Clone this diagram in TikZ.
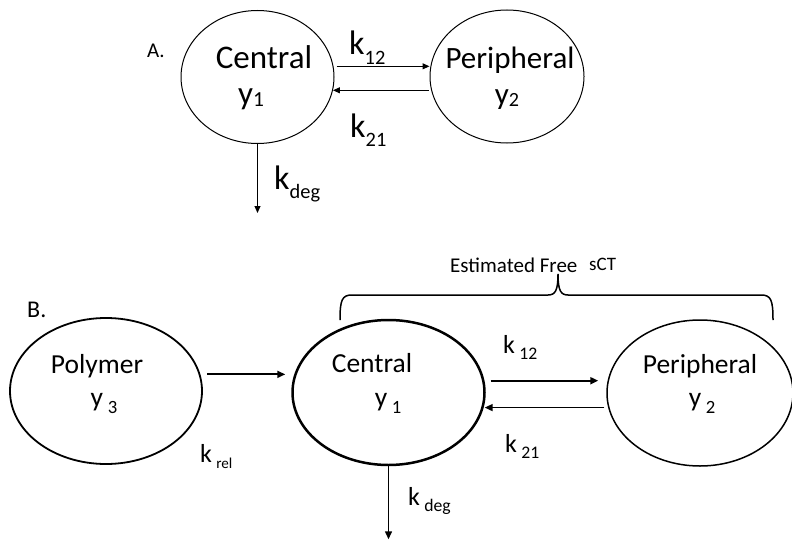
\documentclass[tikz,border=0pt]{standalone}
\usepackage{fontspec}
\setmainfont{Carlito}
\usetikzlibrary{shapes.geometric,arrows.meta,calc}
\newcommand{\lowsub}[3][0.28em]{\raisebox{-#1}{\scalebox{#2}{#3}}}
\tikzset{
  ell/.style={draw, ellipse, inner sep=0pt},
  txtA/.style={font=\fontsize{33}{38}\selectfont, inner sep=0pt},
  txtP/.style={font=\fontsize{31}{36}\selectfont, inner sep=0pt},
  kA/.style={font=\fontsize{34}{38}\selectfont, inner sep=0pt},
  txtB/.style={font=\fontsize{27.5}{32}\selectfont, inner sep=0pt},
  kB/.style={font=\fontsize{26}{32}\selectfont, inner sep=0pt},
  tipA/.style={-{Triangle[length=7pt,width=6pt]}},
  tipB/.style={-{Triangle[length=8pt,width=7pt]}},
}
\begin{document}
\begin{tikzpicture}[x=1pt,y=-1pt]
\useasboundingbox (0,0) rectangle (792,543);
\fill[white] (0,0) rectangle (792,543);
% ---------- A ----------
\node[ell, line width=1pt, minimum width=153pt, minimum height=133pt] (cA) at (257.5,77) {};
\node[ell, line width=1pt, minimum width=154pt, minimum height=133pt] (pA) at (507,76.5) {};
\node[txtA, anchor=base] (tcA1) at (264,68) {Central};
\node[txtA, anchor=base] (tcA2) at (251,104) {y\lowsub[0.08em]{0.65}{1}};
\node[txtP, anchor=base] (tpA1) at (510,68) {Peripheral};
\node[txtP, anchor=base] (tpA2) at (507,104) {y\lowsub[0.08em]{0.65}{2}};
\node[font=\fontsize{21}{24}\selectfont, inner sep=0pt, anchor=base west] (labA) at (147,58) {A.};
\draw[tipA, line width=1pt, shorten <=3pt] (cA.8) -- (pA.west |- cA.8);
\draw[tipA, line width=1pt, shorten <=1pt] (pA.west |- cA.-10) -- (cA.-10);
\node[kA, anchor=base west] (k12A) at (349,55) {k\lowsub{0.6}{12}};
\node[kA, anchor=base west] (k21A) at (350,137) {k\lowsub{0.6}{21}};
\coordinate (dA) at ($(cA.south)+(0,69)$);
\draw[tipA, line width=1pt] (cA.south) -- (dA);
\node[kA, anchor=base west] (kdA) at (274,189) {k\lowsub{0.6}{deg}};
% ---------- B ----------
\node[ell, line width=1.8pt, minimum width=192pt, minimum height=146pt] (pol) at (106,391) {};
\node[ell, line width=2.5pt, minimum width=192pt, minimum height=145pt] (cB) at (388.5,392.5) {};
\node[ell, line width=1.5pt, minimum width=186pt, minimum height=146pt] (pB) at (700,393) {};
\node[font=\fontsize{24}{28}\selectfont, inner sep=0pt, anchor=base west] (labB) at (27,317) {B.};
\node[txtB, anchor=base] (tpo1) at (97,373) {Polymer};
\node[txtB, anchor=base] (tpo2) at (104,406) {y\,\lowsub{0.68}{3}};
\node[txtB, anchor=base] (tcB1) at (372,372) {Central};
\node[txtB, anchor=base] (tcB2) at (388,406) {y\,\lowsub{0.68}{1}};
\node[txtB, anchor=base] (tpB1) at (700,373) {Peripheral};
\node[txtB, anchor=base] (tpB2) at (702,406) {y\,\lowsub{0.68}{2}};
\draw[tipB, line width=1.8pt, shorten <=7pt, shorten >=6pt] (pol.10) -- (cB.west |- pol.10);
\node[kB, anchor=base west] (krel) at (200,462) {k\,\lowsub[0.25em]{0.58}{rel}};
\draw[tipB, line width=2pt, shorten <=6pt, shorten >=8pt] (cB.7) -- (pB.west |- cB.7);
\draw[tipB, line width=1.5pt, shorten <=2pt, shorten >=1pt] (pB.west |- cB.-9) -- (cB.-9);
\node[kB, anchor=base west] (k12B) at (503,353) {k\,\lowsub[0.25em]{0.68}{12}};
\node[kB, anchor=base west] (k21B) at (505,452) {k\,\lowsub[0.25em]{0.68}{21}};
\coordinate (dB) at ($(cB.south)+(0,73)$);
\draw[tipB, line width=1.5pt] (cB.south) -- (dB);
\node[kB, anchor=base west] (kdB) at (408,505) {k\,\lowsub[0.25em]{0.68}{deg}};
% brace
\draw[line width=1.5pt] (340,320) .. controls (340,300) and (342,295) .. (352,295) -- (548,295)
  .. controls (555,295) and (558,291) .. (558,274) .. controls (558,291) and (561,295) .. (568,295)
  -- (761,295) .. controls (771,295) and (773,300) .. (773,320);
\node[font=\fontsize{21}{25}\selectfont, inner sep=0pt, anchor=base west] (est) at (450,272) {Estimated Free};
\node[font=\fontsize{19}{22}\selectfont, inner sep=0pt, anchor=base west] (sct) at (589,270) {sCT};
\end{tikzpicture}
\end{document}
